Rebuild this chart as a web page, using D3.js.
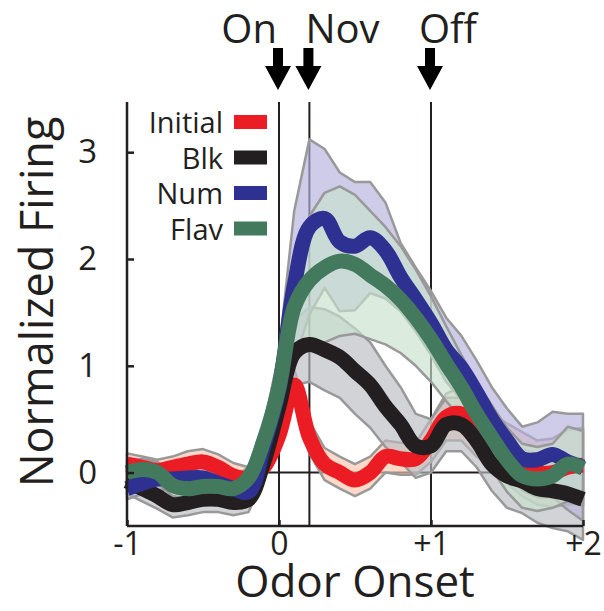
<!DOCTYPE html>
<html>
<head>
<meta charset="utf-8">
<script src="https://cdn.jsdelivr.net/npm/d3@7"></script>
<style>
  body { margin: 0; background: #fff; }
  svg text { font-family: "Open Sans", "Noto Sans", sans-serif; fill: #231f20; }
</style>
</head>
<body>
<div id="chart"></div>
<script>
    var width = 604,
        height = 611;

    // time (s) relative to odor onset
    var times = [-1.0, -0.9, -0.8, -0.7, -0.6, -0.5, -0.4, -0.3, -0.2, -0.1,
                 0.0, 0.1, 0.2, 0.3, 0.4, 0.5, 0.6, 0.7, 0.8, 0.9,
                 1.0, 1.1, 1.2, 1.3, 1.4, 1.5, 1.6, 1.7, 1.8, 1.9, 2.0];

    var initialMean = [0.08, 0.05, 0.02, 0.05, 0.08, 0.1, 0.05, -0.03, -0.05, 0.05,
                       0.35, 0.82, 0.33, 0.08, 0.0, -0.07, 0.0, 0.15, 0.13, 0.13,
                       0.3, 0.52, 0.55, 0.4, 0.3, 0.18, 0.08, 0.0, 0.0, 0.05, 0.07];
    var initialSem = [0.1, 0.1, 0.1, 0.1, 0.12, 0.12, 0.12, 0.12, 0.1, 0.1,
                      0.15, 0.15, 0.15, 0.15, 0.15, 0.15, 0.15, 0.15, 0.15, 0.15,
                      0.2, 0.22, 0.25, 0.25, 0.25, 0.28, 0.3, 0.3, 0.32, 0.35, 0.35];

    var blkMean = [-0.08, -0.15, -0.22, -0.3, -0.28, -0.25, -0.25, -0.28, -0.25, 0.1,
                   0.62, 1.12, 1.2, 1.15, 1.08, 0.95, 0.82, 0.62, 0.45, 0.25,
                   0.25, 0.45, 0.45, 0.3, 0.08, -0.03, -0.08, -0.15, -0.17, -0.2, -0.25];
    var blkSem = [0.12, 0.12, 0.12, 0.12, 0.12, 0.12, 0.12, 0.12, 0.12, 0.15,
                  0.2, 0.3, 0.35, 0.38, 0.38, 0.4, 0.4, 0.38, 0.35, 0.3,
                  0.25, 0.25, 0.25, 0.25, 0.25, 0.3, 0.3, 0.32, 0.35, 0.35, 0.38];

    var numMean = [-0.15, -0.1, -0.06, -0.06, -0.05, -0.05, -0.1, -0.15, -0.18, 0.25,
                   0.78, 1.75, 2.3, 2.38, 2.16, 2.12, 2.2, 2.08, 1.83, 1.62,
                   1.4, 1.15, 0.98, 0.75, 0.5, 0.3, 0.13, 0.12, 0.17, 0.1, 0.05];
    var numSem = [0.1, 0.1, 0.1, 0.1, 0.1, 0.1, 0.1, 0.1, 0.1, 0.15,
                  0.35, 0.7, 0.82, 0.65, 0.65, 0.6, 0.52, 0.45, 0.32, 0.3,
                  0.3, 0.3, 0.3, 0.3, 0.3, 0.3, 0.3, 0.35, 0.4, 0.45, 0.5];

    var flavMean = [0.0, 0.03, 0.0, -0.12, -0.15, -0.13, -0.13, -0.15, -0.05, 0.3,
                    0.8, 1.55, 1.8, 1.92, 1.98, 1.95, 1.85, 1.75, 1.62, 1.45,
                    1.25, 1.02, 0.8, 0.55, 0.33, 0.12, -0.03, -0.06, -0.03, 0.08, 0.04];
    var flavSem = [0.1, 0.1, 0.1, 0.1, 0.1, 0.1, 0.1, 0.1, 0.1, 0.15,
                   0.3, 0.45, 0.6, 0.7, 0.7, 0.65, 0.6, 0.55, 0.5, 0.45,
                   0.4, 0.35, 0.3, 0.3, 0.3, 0.3, 0.3, 0.3, 0.3, 0.35, 0.35];

    var seriesNames = ['Initial', 'Blk', 'Num', 'Flav'];
    var yTicks = [0, 1, 2, 3];
    var xTicks = [-1, 0, 1, 2];
    var xTickLabels = ['-1', '0', '+1', '+2'];
    var events = [0, 0.2, 1];
    var eventLabels = ['On', 'Nov', 'Off'];

    var lineColors = ['#ec1c24', '#231f20', '#2e3092', '#437a5e'];
    var bandColors = ['#fbc4ac', '#b9bcc2', '#b3b0dc', '#c7e2cd'];

    var series = [
        {name: 'Initial', mean: initialMean, sem: initialSem},
        {name: 'Blk', mean: blkMean, sem: blkSem},
        {name: 'Num', mean: numMean, sem: numSem},
        {name: 'Flav', mean: flavMean, sem: flavSem}
    ];

    var x = d3.scaleLinear().domain([-1, 2]).range([127, 583]);
    var y = d3.scaleLinear().domain([-0.5, 3.47]).range([526, 102]);

    var svg = d3.select('#chart').append('svg')
        .attr('width', width)
        .attr('height', height);

    function drawChart(){
        // zero line and event markers sit under the data
        svg.append('line')
            .attr('x1', x(-1)).attr('x2', x(2))
            .attr('y1', y(0)).attr('y2', y(0))
            .attr('stroke', '#231f20').attr('stroke-width', 2);

        svg.selectAll('.event-line')
            .data(events)
            .enter().append('line')
            .attr('class', 'event-line')
            .attr('x1', function(d){ return x(d); })
            .attr('x2', function(d){ return x(d); })
            .attr('y1', y(3.47)).attr('y2', y(-0.5))
            .attr('stroke', '#231f20').attr('stroke-width', 2);

        var area = d3.area()
            .x(function(d, i){ return x(times[i]); })
            .y0(function(d){ return y(d[0]); })
            .y1(function(d){ return y(d[1]); });

        series.forEach(function(s, k){
            var pts = s.mean.map(function(m, i){ return [m - s.sem[i], m + s.sem[i]]; });
            svg.append('path')
                .attr('d', area(pts))
                .attr('fill', bandColors[k])
                .attr('fill-opacity', 0.65)
                .attr('stroke', '#999')
                .attr('stroke-width', 2.5)
                .attr('stroke-linejoin', 'round');
        });

        var line = d3.line()
            .x(function(d, i){ return x(times[i]); })
            .y(function(d){ return y(d); })
            .curve(d3.curveCatmullRom);

        series.forEach(function(s, k){
            svg.append('path')
                .attr('d', line(s.mean))
                .attr('fill', 'none')
                .attr('stroke', lineColors[k])
                .attr('stroke-width', 15)
                .attr('stroke-linejoin', 'round');
        });

        // axes
        var yAxis = d3.axisLeft(y).tickValues(yTicks).tickSize(-7).tickPadding(30).tickFormat(d3.format('d'));
        var gy = svg.append('g').attr('transform', 'translate(' + x(-1) + ',0)').call(yAxis);
        gy.select('.domain').attr('d', 'M0,' + y(3.47) + 'V' + y(-0.5));

        var xAxis = d3.axisBottom(x).tickValues(xTicks).tickSize(-6).tickPadding(6)
            .tickFormat(function(d, i){ return xTickLabels[i]; });
        var gx = svg.append('g').attr('transform', 'translate(0,' + y(-0.5) + ')').call(xAxis);
        gx.select('.domain').attr('d', 'M' + x(-1) + ',0H' + x(2));

        svg.selectAll('.domain, .tick line').attr('stroke', '#231f20').attr('stroke-width', 2.5);
        gy.selectAll('.tick text').style('font-size', '33px').attr('fill', '#231f20');
        gx.selectAll('.tick text').style('font-size', '32px').attr('fill', '#231f20');

        // titles
        svg.append('text')
            .attr('x', 355).attr('y', 597)
            .attr('text-anchor', 'middle')
            .style('font-size', '44px')
            .text('Odor Onset');

        svg.append('text')
            .attr('transform', 'translate(53,' + 302 + ') rotate(-90)')
            .attr('text-anchor', 'middle')
            .style('font-size', '45px')
            .text('Normalized Firing');

        // event arrows and labels
        svg.selectAll('.arrow')
            .data(events)
            .enter().append('path')
            .attr('class', 'arrow')
            .attr('fill', '#000')
            .attr('d', function(d){
                var cx = x(d) - 1;
                return 'M' + (cx - 5) + ',48H' + (cx + 5) + 'V66H' + (cx + 13) +
                       'L' + cx + ',90L' + (cx - 13) + ',66H' + (cx - 5) + 'Z';
            });

        var labelDx = [-2, -4, -12];
        var labelAnchor = ['end', 'start', 'start'];
        svg.selectAll('.event-label')
            .data(eventLabels)
            .enter().append('text')
            .attr('class', 'event-label')
            .attr('x', function(d, i){ return x(events[i]) + labelDx[i]; })
            .attr('y', 43)
            .attr('text-anchor', function(d, i){ return labelAnchor[i]; })
            .style('font-size', '40px')
            .text(function(d){ return d; });

        // legend
        var legend = svg.selectAll('.legend')
            .data(seriesNames)
            .enter().append('g')
            .attr('class', 'legend')
            .attr('transform', function(d, i){ return 'translate(0,' + (122 + i * 35.5) + ')'; });

        legend.append('text')
            .attr('x', 223).attr('y', 11)
            .attr('text-anchor', 'end')
            .style('font-size', '29px')
            .text(function(d){ return d; });

        legend.append('rect')
            .attr('x', 234).attr('y', -7)
            .attr('width', 33).attr('height', 14)
            .attr('fill', function(d, i){ return lineColors[i]; });
    }

    drawChart();
</script>
</body>
</html>
